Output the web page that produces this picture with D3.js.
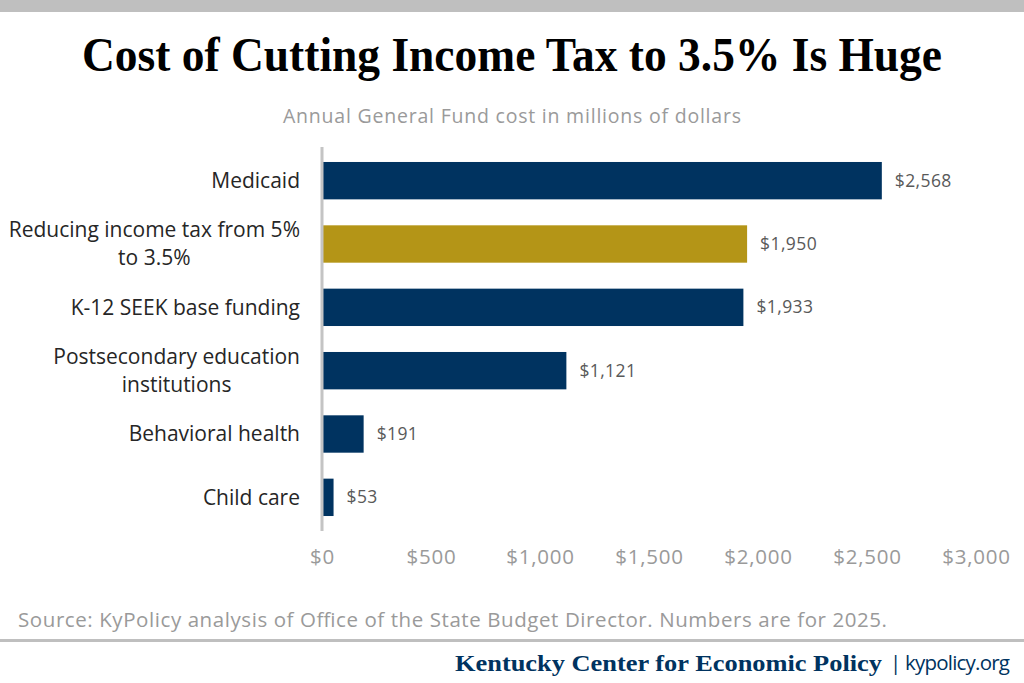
<!DOCTYPE html>
<html><head><meta charset="utf-8">
<script src="https://cdn.jsdelivr.net/npm/d3@7"></script>
<style>body{margin:0;background:#fff}svg{display:block}</style>
</head><body>
<svg id="chart" width="1024" height="683"></svg>
<script>
const categories = [
  ["Medicaid"],
  ["Reducing income tax from 5%", "to 3.5%"],
  ["K-12 SEEK base funding"],
  ["Postsecondary education", "institutions"],
  ["Behavioral health"],
  ["Child care"]
];
const values = [2568, 1950, 1933, 1121, 191, 53];
const highlight = [false, true, false, false, false, false];
const tickValues = [0, 500, 1000, 1500, 2000, 2500, 3000];

const svg = d3.select("#chart");
const W = 1024, H = 683;
const navy = "#003360", gold = "#b49517", grey = "#bfbfbf";
const sans = "'Open Sans', Lato, sans-serif";

svg.append("rect").attr("x",0).attr("y",0).attr("width",W).attr("height",12).attr("fill",grey);

svg.append("text").attr("transform","translate(512,71) scale(1,1.2)").attr("text-anchor","middle")
  .attr("font-family","'Liberation Serif', 'DejaVu Serif', serif").attr("font-weight","bold")
  .attr("font-size",41).attr("fill","#000")
  .attr("textLength",860).attr("lengthAdjust","spacingAndGlyphs")
  .text("Cost of Cutting Income Tax to 3.5% Is Huge");

svg.append("text").attr("x",512).attr("y",123).attr("text-anchor","middle")
  .attr("font-family",sans).attr("font-size",19.5).attr("fill","#9a9a9a")
  .attr("textLength",458).attr("lengthAdjust","spacing")
  .text("Annual General Fund cost in millions of dollars");

const x = d3.scaleLinear().domain([0,3000]).range([322,976]);
const idx = d3.range(values.length);
const y = d3.scaleBand().domain(idx).range([149,529]).paddingInner(0.41).paddingOuter(0.205);

// bars
svg.append("g").selectAll("rect").data(idx).join("rect")
  .attr("x", x(0)).attr("y", i=>y(i)).attr("width", i=>x(values[i])-x(0))
  .attr("height", y.bandwidth()).attr("fill", i=>highlight[i]?gold:navy);

// zero line
svg.append("line").attr("x1",x(0)).attr("x2",x(0)).attr("y1",147).attr("y2",531)
  .attr("stroke","#c4c4c4").attr("stroke-width",3);

// value labels
svg.append("g").selectAll("text").data(idx).join("text")
  .attr("x", i=>x(values[i])+13).attr("y", i=>y(i)+y.bandwidth()/2).attr("dy","0.35em")
  .attr("font-family","'Open Sans', sans-serif").attr("font-size",17.5).attr("fill","#595959")
  .attr("letter-spacing",0.4)
  .text(i=>"$"+d3.format(",")(values[i]));

// category labels (centered block, right-aligned at 300)
const catG = svg.append("g").attr("font-family",sans).attr("font-size",21).attr("fill","#262626");
idx.forEach(i=>{
  const lines = categories[i];
  const cy = y(i)+y.bandwidth()/2;
  const lh = 28;
  const t = catG.append("text").attr("text-anchor","end").attr("x",300);
  lines.forEach((ln,k)=>{
    t.append("tspan").attr("x",300).attr("y", cy + (k-(lines.length-1)/2)*lh).attr("dy","0.35em").text(ln);
  });
  if(lines.length>1){
    const widths = [];
    t.selectAll("tspan").each(function(){widths.push(this.getComputedTextLength());});
    const maxW = d3.max(widths);
    t.selectAll("tspan").attr("text-anchor","middle").attr("x",300-maxW/2);
  }
});

// x axis
const axis = d3.axisBottom(x).tickValues(tickValues).tickSize(0).tickPadding(0)
  .tickFormat(d=>"$"+d3.format(",")(d));
const ag = svg.append("g").attr("transform","translate(0,549)").call(axis);
ag.select(".domain").remove();
ag.selectAll("text").attr("font-family",sans).attr("font-size",20.5).attr("fill","#9a9a9a")
  .attr("letter-spacing",0.8);

svg.append("text").attr("x",18).attr("y",627).attr("font-family",sans).attr("font-size",20.5)
  .attr("fill","#9a9a9a").attr("textLength",869).attr("lengthAdjust","spacing")
  .text("Source: KyPolicy analysis of Office of the State Budget Director. Numbers are for 2025.");

svg.append("rect").attr("x",0).attr("y",639).attr("width",W).attr("height",3).attr("fill",grey);

svg.append("text").attr("x",455).attr("y",671).attr("fill",navy)
  .attr("font-family","'Liberation Serif', serif").attr("font-weight","bold").attr("font-size",24)
  .attr("textLength",427).attr("lengthAdjust","spacingAndGlyphs")
  .text("Kentucky Center for Economic Policy");
svg.append("text").attr("x",890).attr("y",670).attr("fill",navy)
  .attr("font-family",sans).attr("font-size",20.5)
  .attr("textLength",120).attr("lengthAdjust","spacing")
  .text("| kypolicy.org");
</script>
</body></html>
